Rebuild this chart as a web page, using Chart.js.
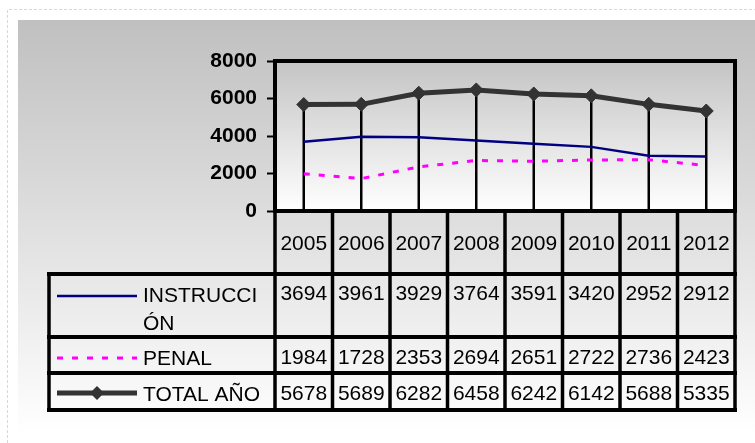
<!DOCTYPE html>
<html>
<head>
<meta charset="utf-8">
<script src="https://cdn.jsdelivr.net/npm/chart.js@4.4.1/dist/chart.umd.min.js"></script>
<style>
  html, body { margin: 0; padding: 0; background: #ffffff; }
  #wrap { width: 755px; height: 443px; position: relative; }
</style>
</head>
<body>
<div id="wrap"><canvas id="c" width="755" height="443"></canvas></div>
<script>
// ---- data ----
const years = ['2005', '2006', '2007', '2008', '2009', '2010', '2011', '2012'];
const instruccion = [3694, 3961, 3929, 3764, 3591, 3420, 2952, 2912];
const penal = [1984, 1728, 2353, 2694, 2651, 2722, 2736, 2423];
const totalAnio = [5678, 5689, 6282, 6458, 6242, 6142, 5688, 5335];
const seriesNames = ['INSTRUCCIÓN', 'PENAL', 'TOTAL AÑO'];
const yTicks = [0, 2000, 4000, 6000, 8000];

const FONT = '"Liberation Sans", Arial, sans-serif';

// layout of the data table under the plot
const TABLE = {
  legendLeft: 49,
  rows: [ // top/bottom of each row: header, instr, penal, total
    [211, 274], [274, 337], [337, 373], [373, 410]
  ]
};

function wrapChars(ctx, text, maxW) {
  const lines = [];
  let cur = '';
  for (const ch of text) {
    if (ctx.measureText(cur + ch).width > maxW && cur) { lines.push(cur); cur = ch; }
    else cur += ch;
  }
  if (cur) lines.push(cur);
  return lines;
}

const bgPlugin = {
  id: 'bg',
  beforeDraw(chart) {
    const ctx = chart.ctx;
    const ca = chart.chartArea;
    ctx.save();
    ctx.fillStyle = '#ffffff';
    ctx.fillRect(0, 0, chart.width, chart.height);
    // panel gradient
    let g = ctx.createLinearGradient(0, 20, 0, 435);
    g.addColorStop(0, '#c0c0c0');
    g.addColorStop(1, '#ffffff');
    ctx.fillStyle = g;
    ctx.fillRect(18, 20, chart.width - 18, chart.height - 20);
    // outer dashed frame
    ctx.strokeStyle = '#d8d8d8';
    ctx.lineWidth = 1;
    ctx.setLineDash([3, 2]);
    ctx.beginPath();
    ctx.moveTo(7.5, chart.height);
    ctx.lineTo(7.5, 9.5);
    ctx.lineTo(chart.width, 9.5);
    ctx.stroke();
    ctx.setLineDash([]);
    // plot area gradient
    g = ctx.createLinearGradient(0, ca.top, 0, ca.bottom);
    g.addColorStop(0, '#c4c4c4');
    g.addColorStop(1, '#ffffff');
    ctx.fillStyle = g;
    ctx.fillRect(ca.left, ca.top, ca.right - ca.left, ca.bottom - ca.top);
    ctx.restore();
  },
  beforeDatasetsDraw(chart) {
    // drop lines from the total series down to the axis
    const ctx = chart.ctx;
    const meta = chart.getDatasetMeta(2);
    ctx.save();
    ctx.strokeStyle = '#000000';
    ctx.lineWidth = 2.5;
    meta.data.forEach(pt => {
      ctx.beginPath();
      ctx.moveTo(pt.x, pt.y);
      ctx.lineTo(pt.x, chart.chartArea.bottom);
      ctx.stroke();
    });
    ctx.restore();
  },
  afterDraw(chart) {
    const ctx = chart.ctx;
    const ca = chart.chartArea;
    const xs = chart.scales.x;
    const n = years.length;
    const colW = xs.getPixelForValue(1) - xs.getPixelForValue(0);
    const edges = [];
    for (let i = 0; i <= n; i++) edges.push(xs.getPixelForValue(0) - colW / 2 + i * colW);
    const rows = TABLE.rows;
    const tBottom = rows[rows.length - 1][1];
    ctx.save();
    ctx.strokeStyle = '#000000';
    ctx.lineCap = 'square';
    // plot frame
    ctx.lineWidth = 4;
    ctx.strokeRect(ca.left, ca.top, ca.right - ca.left, ca.bottom - ca.top);
    // horizontal table lines
    ctx.beginPath();
    ctx.moveTo(edges[0], rows[0][0]); ctx.lineTo(edges[n], rows[0][0]);
    for (let r = 1; r < rows.length; r++) {
      ctx.moveTo(TABLE.legendLeft, rows[r][0]); ctx.lineTo(edges[n], rows[r][0]);
    }
    ctx.moveTo(TABLE.legendLeft, tBottom); ctx.lineTo(edges[n], tBottom);
    ctx.stroke();
    // vertical table lines
    ctx.lineWidth = 3.5;
    ctx.beginPath();
    for (let i = 0; i <= n; i++) {
      ctx.moveTo(edges[i], rows[0][0]); ctx.lineTo(edges[i], tBottom);
    }
    ctx.moveTo(TABLE.legendLeft, rows[1][0]); ctx.lineTo(TABLE.legendLeft, tBottom);
    ctx.stroke();

    // texts
    ctx.fillStyle = '#000000';
    ctx.font = '21px ' + FONT;
    ctx.textAlign = 'center';
    ctx.textBaseline = 'alphabetic';
    years.forEach((y, i) => ctx.fillText(y, (edges[i] + edges[i + 1]) / 2, 250));
    const valueBaselines = [300, 364, 400];
    const sampleY = [296, 358, 393];
    const textBaselines = [302, 365, 401];
    chart.data.datasets.forEach((ds, s) => {
      ctx.textAlign = 'center';
      ctx.fillStyle = '#000000';
      ds.data.forEach((v, i) => ctx.fillText(String(v), (edges[i] + edges[i + 1]) / 2, valueBaselines[s]));
      // legend sample
      ctx.save();
      ctx.strokeStyle = ds.borderColor;
      ctx.lineWidth = ds.borderWidth;
      ctx.lineCap = 'butt';
      ctx.setLineDash(ds.borderDash || []);
      ctx.beginPath();
      ctx.moveTo(57, sampleY[s]); ctx.lineTo(137, sampleY[s]);
      ctx.stroke();
      ctx.restore();
      if (ds.pointRadius > 0) {
        ctx.save();
        ctx.fillStyle = ds.pointBackgroundColor;
        const r = ds.pointRadius;
        ctx.beginPath();
        ctx.moveTo(97 - r, sampleY[s]);
        ctx.lineTo(97, sampleY[s] - r);
        ctx.lineTo(97 + r, sampleY[s]);
        ctx.lineTo(97, sampleY[s] + r);
        ctx.closePath();
        ctx.fill();
        ctx.restore();
      }
      ctx.textAlign = 'left';
      ctx.fillStyle = '#000000';
      const lines = wrapChars(ctx, ds.label, 118);
      lines.forEach((ln, k) => ctx.fillText(ln, 143, textBaselines[s] + k * 28));
    });
    ctx.restore();
  }
};

new Chart(document.getElementById('c'), {
  type: 'line',
  data: {
    labels: years,
    datasets: [
      {
        label: seriesNames[0], data: instruccion,
        borderColor: '#000080', borderWidth: 2.5, pointRadius: 0, tension: 0, fill: false
      },
      {
        label: seriesNames[1], data: penal,
        borderColor: '#ff00ff', borderWidth: 3, borderDash: [6, 9], pointRadius: 0, tension: 0, fill: false
      },
      {
        label: seriesNames[2], data: totalAnio,
        borderColor: '#333333', borderWidth: 5, pointRadius: 7, pointStyle: 'rectRot',
        pointBackgroundColor: '#333333', pointBorderColor: '#333333', pointBorderWidth: 1,
        tension: 0, fill: false
      }
    ]
  },
  options: {
    responsive: false,
    animation: false,
    devicePixelRatio: 1,
    layout: { padding: { left: 0, right: 20, top: 61, bottom: 232 } },
    plugins: { legend: { display: false }, tooltip: { enabled: false }, title: { display: false } },
    scales: {
      x: { display: false, offset: true },
      y: {
        min: 0, max: 8000,
        afterBuildTicks(scale) { scale.ticks = yTicks.map(v => ({ value: v })); },
        afterFit(scale) { scale.width = 275; },
        ticks: {
          color: '#000000', padding: 10,
          font: { family: FONT, size: 21, weight: 'bold' },
          callback: v => String(v)
        },
        grid: { drawOnChartArea: false, drawTicks: true, tickLength: 8, tickWidth: 2, tickColor: '#000000' },
        border: { display: true, color: '#000000', width: 4 }
      }
    }
  },
  plugins: [bgPlugin]
});
</script>
</body>
</html>
